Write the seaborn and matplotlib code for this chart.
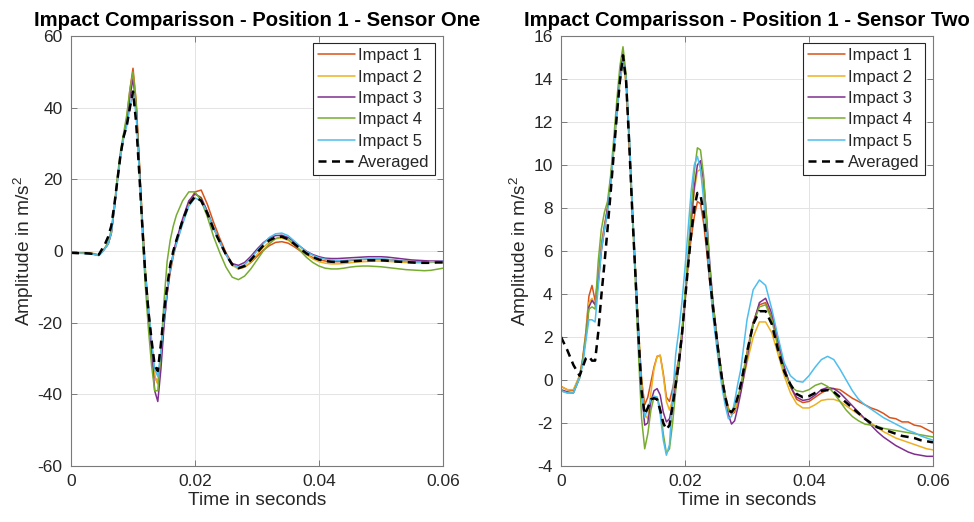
import numpy as np
import pandas as pd
import matplotlib
matplotlib.use("Agg")
import matplotlib.pyplot as plt
import seaborn as sns

# ---------------- data (time in ms) ----------------
t_left_ms = [0, 1, 2, 3, 4, 4.5, 5, 5.5, 6, 6.5, 7, 7.5, 8, 8.5, 9, 9.5, 10, 10.5, 11, 11.5,
             12, 12.5, 13, 13.5, 14, 14.5, 15, 15.5, 16, 16.5, 17,
             18, 19, 20, 21, 22, 23, 24, 25, 26, 27, 28, 29, 30, 31, 32, 33, 34, 35, 36, 37, 38, 39,
             40, 41, 42, 43, 44, 45, 46, 47, 48, 49, 50, 51, 52, 53, 54, 55, 56, 57, 58, 59, 60]

s1_impact1 = [-0.5, -0.6, -0.6, -0.7, -1.0, -1.2, -0.3, 0.8, 2, 5, 12, 20, 27, 32, 37, 45, 51, 42, 25, 8,
              -6, -16, -26, -35, -37, -30, -20, -12, -6, -1.5, 2,
              8, 13.5, 16.5, 17, 13, 8, 3.5, -0.5, -3.5, -4.8, -4.5, -3.2, -1.5, 0.2, 1.5, 2.4, 2.6, 2.2, 1.2, 0.0, -1.0, -1.8,
              -2.4, -2.8, -3.0, -3.0, -2.9, -2.7, -2.5, -2.4, -2.3, -2.3, -2.3, -2.4, -2.5, -2.7, -2.8, -2.9, -3.0, -3.0, -3.0, -3.0, -3.0]
s1_impact2 = [-0.3, -0.4, -0.4, -0.5, -0.8, -1.0, -0.2, 0.8, 2, 5, 12, 20, 27, 32, 37, 44, 49, 42, 26, 9,
              -5, -16, -26, -35, -37, -29, -19, -11, -5, -1, 2.5,
              8.5, 13.5, 15.8, 15, 11, 6.5, 2.5, -1, -4, -5, -4.5, -3, -1, 1, 2.5, 3.4, 3.6, 3, 1.8, 0.4, -1, -2.2,
              -3.0, -3.4, -3.6, -3.6, -3.5, -3.3, -3.1, -3.0, -2.9, -2.8, -2.8, -2.9, -3.0, -3.1, -3.2, -3.3, -3.3, -3.3, -3.2, -3.1, -3.0]
s1_impact3 = [-0.6, -0.6, -0.6, -0.7, -1.0, -1.2, -0.3, 0.8, 2, 5, 12, 20, 27, 32, 36, 43, 48, 41, 25, 8,
              -7, -18, -28, -39, -42, -33, -21, -12, -5, -0.5, 3,
              9, 14, 16, 14.8, 11, 6.5, 2.5, -1, -3.5, -4, -3.2, -1.5, 0.5, 2.3, 3.6, 4.3, 4.4, 3.8, 2.6, 1.2, -0.1, -1.0,
              -1.6, -2.0, -2.1, -2.1, -2.0, -1.9, -1.8, -1.7, -1.6, -1.6, -1.6, -1.7, -1.9, -2.1, -2.3, -2.5, -2.6, -2.7, -2.8, -2.8, -2.8]
s1_impact4 = [-0.5, -0.6, -0.6, -0.7, -1.0, -1.1, -0.2, 1, 2.5, 6, 13, 21, 28, 33, 38, 45, 50, 41, 23, 5,
              -10, -22, -32, -39, -39, -28, -14, -3, 3, 7, 10,
              14, 16.5, 16.5, 14, 9.5, 4, -0.5, -4.5, -7.3, -8, -7, -5, -2.5, 0, 2, 3.5, 4, 3.3, 1.8, 0, -1.8, -3.2,
              -4.2, -4.8, -5.0, -5.0, -4.8, -4.5, -4.3, -4.2, -4.2, -4.3, -4.4, -4.6, -4.8, -5.0, -5.2, -5.3, -5.4, -5.5, -5.4, -5.1, -4.8]
s1_impact5 = [-0.6, -0.6, -0.7, -0.8, -1.1, -1.3, -0.4, 0.7, 2, 5, 12, 19.5, 26.5, 31.5, 35, 40, 44.5, 38, 23, 7,
              -6, -16, -25, -33, -35, -28, -19, -11, -5, -1, 2,
              7.5, 12.5, 14.8, 14, 10.8, 6.5, 2.5, -1, -3.8, -4.6, -3.8, -2, 0, 2, 3.8, 4.8, 5, 4.3, 2.8, 1.2, -0.2, -1.2,
              -1.9, -2.3, -2.5, -2.6, -2.6, -2.5, -2.4, -2.3, -2.2, -2.2, -2.2, -2.3, -2.5, -2.7, -2.9, -3.0, -3.1, -3.1, -3.0, -3.0, -2.9]
s1_avg = [-0.5, -0.6, -0.6, -0.7, -0.9, -1.0, 0.5, 2.0, 4.0, 7, 13, 20, 27, 32, 35, 40, 44.5, 36, 22, 7,
          -7, -17, -25, -32, -33.5, -26, -17, -10, -4, 0, 3,
          8.5, 13, 15.2, 14, 10.5, 6, 2.5, -1, -3.8, -4.8, -4.2, -2.5, -0.5, 1.5, 3, 3.8, 4.0, 3.3, 2.0, 0.6, -0.7, -1.7,
          -2.4, -2.8, -3.0, -3.1, -3.0, -2.9, -2.8, -2.7, -2.6, -2.6, -2.6, -2.7, -2.9, -3.0, -3.1, -3.2, -3.3, -3.3, -3.3, -3.2, -3.2]

t_right_ms = [0, 1, 2, 3, 3.5, 4, 4.5, 5, 5.5, 6, 6.5, 7, 7.5, 8, 8.5, 9, 9.5, 10, 10.5, 11, 11.5,
              12, 12.5, 13, 13.5, 14, 14.5, 15, 15.5, 16, 16.5, 17, 17.5, 18, 18.5, 19, 19.5, 20, 20.5,
              21, 21.5, 22, 22.5, 23, 23.5, 24, 24.5, 25, 25.5, 26, 26.5, 27, 27.5, 28, 28.5, 29,
              30, 31, 32, 33, 34, 35, 36, 37, 38, 39, 40, 41, 42, 43, 44, 45, 46, 47, 48, 49, 50,
              51, 52, 53, 54, 55, 56, 57, 58, 59, 60]

s2_impact1 = [-0.3, -0.45, -0.5, 0.2, 1.0, 2.2, 3.9, 4.4, 3.7, 4.8, 6.3, 7.2, 8.0, 9.2, 10.8, 12.5, 14.0, 15.0, 13.8, 11.0, 7.8,
              5.0, 2.2, 0.0, -1.15, -0.8, -0.1, 0.6, 1.1, 1.15, 0.3, -0.8, -1.0, -0.4, 0.3, 1.0, 2.2, 3.8, 5.4,
              6.6, 7.6, 8.3, 8.2, 7.3, 6.0, 4.5, 3.3, 2.2, 1.1, 0.1, -0.7, -1.3, -1.6, -1.5, -1.0, -0.3,
              1.3, 2.7, 3.5, 3.6, 2.9, 1.7, 0.6, -0.3, -0.9, -1.05, -1.0, -0.8, -0.6, -0.45, -0.4, -0.45, -0.65, -0.85, -1.0, -1.15, -1.3,
              -1.4, -1.55, -1.75, -1.8, -1.95, -1.95, -2.1, -2.15, -2.3, -2.45]
s2_impact2 = [-0.3, -0.45, -0.45, 0.2, 1.0, 2.2, 3.6, 3.8, 3.5, 4.6, 6.1, 7.0, 7.9, 9.1, 10.6, 12.3, 13.8, 14.8, 13.8, 11.2, 8.0,
              5.2, 2.4, 0.0, -1.6, -1.8, -0.6, 0.5, 1.1, 1.15, 0.2, -1.0, -1.4, -0.9, 0.0, 0.8, 2.0, 3.6, 5.4,
              7.2, 8.8, 9.7, 9.8, 8.8, 7.0, 5.0, 3.5, 2.3, 1.1, 0.0, -0.8, -1.4, -1.6, -1.4, -1.0, -0.5,
              0.8, 2.0, 2.7, 2.7, 2.2, 1.2, 0.2, -0.6, -1.1, -1.3, -1.3, -1.15, -0.95, -0.9, -0.9, -1.0, -1.2, -1.4, -1.6, -1.8, -2.0,
              -2.2, -2.4, -2.55, -2.7, -2.8, -2.9, -3.0, -3.1, -3.2, -3.25]
s2_impact3 = [-0.45, -0.55, -0.6, 0.1, 0.9, 2.0, 3.4, 3.7, 3.5, 4.5, 6.0, 7.0, 8.0, 9.3, 10.9, 12.6, 14.2, 15.2, 14.0, 11.2, 8.0,
              5.1, 2.2, -0.5, -2.1, -2.0, -1.0, -0.5, -0.4, -0.7, -1.5, -1.95, -1.8, -1.1, -0.3, 0.6, 1.9, 3.6, 5.5,
              7.4, 9.0, 10.0, 10.2, 9.3, 7.5, 5.4, 3.7, 2.4, 1.2, 0.1, -0.9, -1.6, -2.05, -1.9, -1.3, -0.6,
              1.0, 2.6, 3.6, 3.8, 3.1, 1.9, 0.6, -0.3, -0.8, -0.95, -0.9, -0.7, -0.45, -0.35, -0.4, -0.6, -0.9, -1.2, -1.5, -1.8, -2.1,
              -2.4, -2.65, -2.85, -3.05, -3.2, -3.35, -3.45, -3.5, -3.55, -3.55]
s2_impact4 = [-0.5, -0.6, -0.6, 0.1, 0.9, 2.0, 3.3, 3.4, 3.3, 5.5, 7.0, 7.8, 8.3, 9.5, 11.2, 13.0, 14.6, 15.5, 14.2, 11.3, 7.8,
              4.5, 1.2, -1.8, -3.2, -2.5, -1.4, -0.8, -0.8, -1.3, -2.5, -3.4, -3.2, -2.0, -0.5, 0.9, 2.3, 4.0, 5.9,
              7.9, 9.7, 10.8, 10.7, 9.5, 7.4, 5.2, 3.6, 2.3, 1.1, 0.0, -0.9, -1.4, -1.5, -1.2, -0.8, -0.3,
              1.2, 2.6, 3.4, 3.5, 2.8, 1.5, 0.4, -0.3, -0.5, -0.55, -0.45, -0.25, -0.15, -0.3, -0.6, -1.0, -1.4, -1.7, -1.9, -2.05, -2.1,
              -2.15, -2.25, -2.3, -2.35, -2.4, -2.45, -2.5, -2.55, -2.6, -2.65]
s2_impact5 = [-0.5, -0.6, -0.6, 0.1, 0.7, 1.8, 2.8, 2.8, 2.7, 4.3, 6.0, 7.0, 7.8, 9.1, 10.7, 12.4, 13.9, 14.8, 14.0, 11.5, 8.2,
              5.0, 2.0, -0.6, -1.75, -1.3, -0.9, -0.75, -0.8, -1.6, -2.8, -3.5, -3.0, -0.8, 1.2, 2.3, 3.6, 5.2, 7.0,
              8.8, 10.0, 10.4, 9.8, 8.4, 6.5, 4.6, 3.0, 1.8, 0.6, -0.4, -1.2, -1.8, -1.7, -1.0, -0.2, 0.5,
              2.8, 4.2, 4.65, 4.4, 3.3, 2.0, 0.8, 0.2, -0.05, -0.1, 0.2, 0.6, 0.95, 1.1, 0.95, 0.5, 0.0, -0.5, -0.9, -1.15, -1.35,
              -1.55, -1.75, -1.9, -2.05, -2.2, -2.35, -2.45, -2.6, -2.7, -2.8]
s2_avg = [2.0, 1.4, 0.7, 0.2, 0.6, 1.0, 1.1, 0.9, 0.9, 2.2, 3.9, 5.4, 7.0, 8.7, 10.5, 12.3, 13.9, 15.1, 13.9, 11.0, 7.8,
          4.9, 2.0, -0.5, -1.6, -1.3, -0.9, -0.85, -0.9, -1.4, -2.0, -2.3, -2.1, -1.2, -0.2, 0.8, 2.1, 3.7, 5.3,
          6.8, 8.0, 8.7, 8.6, 7.8, 6.4, 4.8, 3.4, 2.2, 1.0, 0.0, -0.8, -1.4, -1.5, -1.3, -0.8, -0.2,
          1.3, 2.6, 3.2, 3.2, 2.6, 1.4, 0.4, -0.2, -0.65, -0.8, -0.75, -0.6, -0.5, -0.47, -0.55, -0.8, -1.05, -1.3, -1.55, -1.8, -2.0,
          -2.2, -2.3, -2.4, -2.5, -2.6, -2.65, -2.7, -2.8, -2.85, -2.9]

labels = ["Impact 1", "Impact 2", "Impact 3", "Impact 4", "Impact 5"]
colors = ["#D95319", "#EDB120", "#7E2F8E", "#77AC30", "#4DBEEE"]

left_series = [s1_impact1, s1_impact2, s1_impact3, s1_impact4, s1_impact5]
right_series = [s2_impact1, s2_impact2, s2_impact3, s2_impact4, s2_impact5]

# ---------------- plotting ----------------
sns.set_theme(style="white")
plt.rcParams['font.family'] = ['Liberation Sans', 'DejaVu Sans']
plt.rcParams['mathtext.fontset'] = 'custom'
plt.rcParams['mathtext.rm'] = 'Liberation Sans'
plt.rcParams['mathtext.it'] = 'Liberation Sans'

fig = plt.figure(figsize=(9.74, 5.22), dpi=100)
axL = fig.add_axes([71 / 974, 1 - 466 / 522, 372 / 974, 430 / 522])
axR = fig.add_axes([561 / 974, 1 - 466 / 522, 372 / 974, 430 / 522])

text_c = "#262626"


def draw(ax, t_ms, series, avg, title, ylim, yticks):
    t = np.array(t_ms) / 1000.0
    for vals, lab, col in zip(series, labels, colors):
        sns.lineplot(x=t, y=np.array(vals), ax=ax, color=col, lw=1.1, label=lab)
    sns.lineplot(x=t, y=np.array(avg), ax=ax, color="black", lw=1.8,
                 linestyle=(0, (3.2, 2.2)), label="Averaged")
    ax.set_xlim(0, 0.06)
    ax.set_ylim(*ylim)
    ax.set_xticks([0, 0.02, 0.04, 0.06])
    ax.set_xticklabels(["0", "0.02", "0.04", "0.06"])
    ax.set_yticks(yticks)
    ax.set_yticklabels([str(v) for v in yticks])
    ax.grid(True, color="#e3e3e3", lw=0.7)
    ax.set_axisbelow(True)
    for sp in ax.spines.values():
        sp.set_color("#7a7a7a")
        sp.set_linewidth(0.8)
        sp.set_visible(True)
    ax.tick_params(direction="in", length=4, width=0.7, color="#7a7a7a",
                   labelsize=12.5, labelcolor=text_c, top=True, right=True,
                   bottom=True, left=True, pad=6)
    ax.set_xlabel("Time in seconds", fontsize=13.8, color=text_c, labelpad=2)
    ax.set_ylabel(r"Amplitude in m/s$^2$", fontsize=13.8, color=text_c, labelpad=1)
    ax.set_title(title, fontsize=14.6, fontweight="bold", color="black", pad=7)
    leg = ax.legend(loc="upper right", bbox_to_anchor=(0.978, 0.983), borderaxespad=0,
                    fontsize=12, frameon=True, fancybox=False, framealpha=1,
                    edgecolor="#262626", handlelength=2.2, handletextpad=0.2,
                    borderpad=0.3, labelspacing=0.38)
    leg.get_frame().set_linewidth(0.8)
    for txt in leg.get_texts():
        txt.set_color(text_c)


draw(axL, t_left_ms, left_series, s1_avg,
     "Impact Comparisson - Position 1 - Sensor One", (-60, 60), list(range(-60, 61, 20)))
draw(axR, t_right_ms, right_series, s2_avg,
     "Impact Comparisson - Position 1 - Sensor Two", (-4, 16), list(range(-4, 17, 2)))

fig.savefig("out.png", dpi=100, facecolor="white")
